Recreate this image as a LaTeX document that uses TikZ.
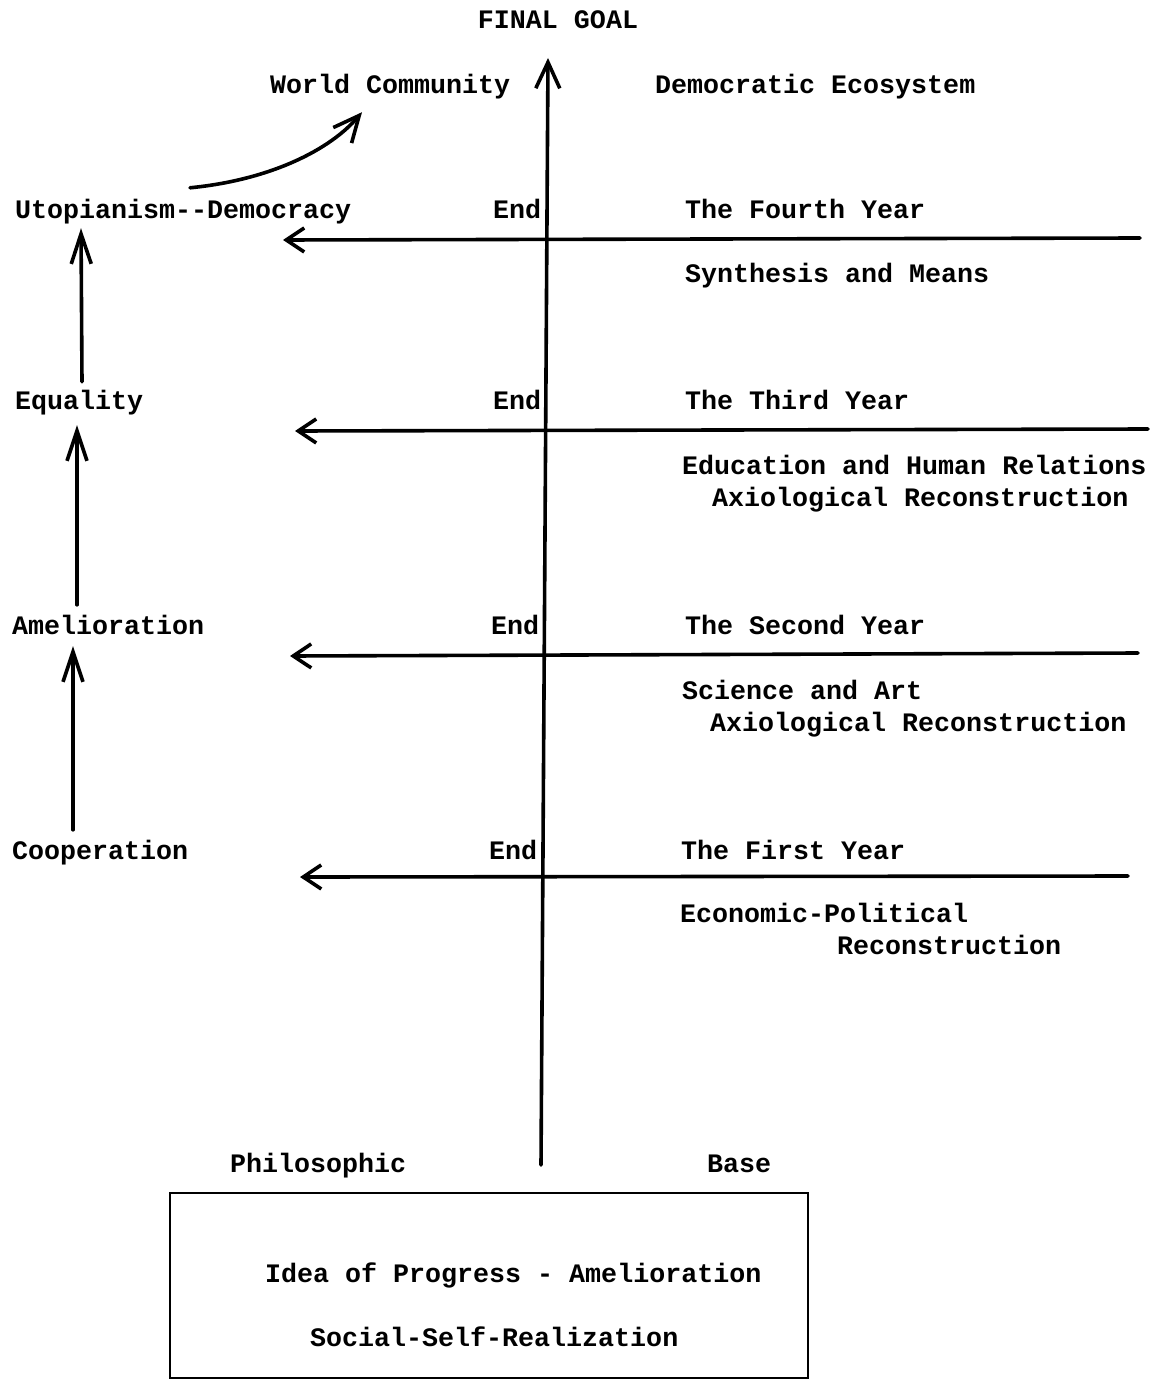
\documentclass[tikz,border=0pt]{standalone}
\usepackage{fontspec}
\setmonofont{Liberation Mono}
\usetikzlibrary{arrows.meta}
\begin{document}
\begin{tikzpicture}[x=1pt,y=-1pt,
  txt/.style={anchor=base west, inner sep=0pt, text height=17pt, text depth=6pt,
    font=\ttfamily\bfseries\fontsize{26.67}{32}\selectfont},
  ctxt/.style={txt, anchor=base},
  line/.style={line width=3.6pt, line cap=round},
  hbarb/.style={line, -{Straight Barb[length=18pt,width=24pt]}},
  vbarb/.style={line, -{Straight Barb[length=30pt,width=20pt]}},
  mbarb/.style={line, -{Straight Barb[length=26pt,width=24pt]}},
  basebox/.style={draw, line width=2.8pt, minimum width=638pt, minimum height=185pt, inner sep=0pt}]
\useasboundingbox (0,0) rectangle (1153,1380);

% headings at the top
\node[ctxt] (goal) at (558,29) {FINAL GOAL};
\node[txt] (world) at (270,94) {World Community};
\node[txt] (demo) at (655,94) {Democratic Ecosystem};

% left column of ideals
\node[txt] (utop) at (15,219) {Utopianism--Democracy};
\node[txt] (equal) at (15,409) {Equality};
\node[txt] (amel) at (12,634) {Amelioration};
\node[txt] (coop) at (12,859) {Cooperation};

% "End" markers beside the axis
\node[txt] (end4) at (493,219) {End};
\node[txt] (end3) at (493,409) {End};
\node[txt] (end2) at (491,634) {End};
\node[txt] (end1) at (489,859) {End};

% the four years
\node[txt] (y4) at (685,219) {The Fourth Year};
\node[txt] (y4b) at (685,282) {Synthesis and Means};
\node[txt] (y3) at (685,409) {The Third Year};
\node[txt] (y3b) at (682,474) {Education and Human Relations};
\node[txt] (y3c) at (712,506) {Axiological Reconstruction};
\node[txt] (y2) at (685,634) {The Second Year};
\node[txt] (y2b) at (682,699) {Science and Art};
\node[txt] (y2c) at (710,731) {Axiological Reconstruction};
\node[txt] (y1) at (681,859) {The First Year};
\node[txt] (y1b) at (680,922) {Economic-Political};
\node[txt] (y1c) at (837,954) {Reconstruction};

% philosophic base
\node[txt] (phil) at (230,1172) {Philosophic};
\node[txt] (basel) at (707,1172) {Base};
\node[basebox] (base) at (489,1285.5) {};
\node[txt] (idea) at (265,1282) {Idea of Progress - Amelioration};
\node[txt] (ssr) at (310,1346) {Social-Self-Realization};

% main axis
\coordinate (axbot) at (541,1165);
\coordinate (axtop) at (548,58);
\draw[mbarb] (axbot) -- (axtop);

% yearly arrows running leftwards
\coordinate (r4) at (1140,238); \coordinate (l4) at (283,240);
\coordinate (r3) at (1148,429); \coordinate (l3) at (295,431);
\coordinate (r2) at (1138,653); \coordinate (l2) at (290,656);
\coordinate (r1) at (1128,876); \coordinate (l1) at (300,877);
\draw[hbarb] (r4) -- (l4);
\draw[hbarb] (r3) -- (l3);
\draw[hbarb] (r2) -- (l2);
\draw[hbarb] (r1) -- (l1);

% ladder of ideals
\draw[vbarb] ([xshift=61pt,yshift=12pt]coop.north west) -- ([xshift=61pt,yshift=-6pt]amel.south west);
\draw[vbarb] ([xshift=65pt,yshift=12pt]amel.north west) -- ([xshift=62pt,yshift=-10pt]equal.south west);
\draw[vbarb] ([xshift=67pt,yshift=10pt]equal.north west) -- ([xshift=66pt,yshift=-3pt]utop.south west);
\draw[mbarb] ([xshift=175pt,yshift=14pt]utop.north west)
  .. controls (270,180) and (330,150) .. ([xshift=92pt,yshift=-12pt]world.south west);
\end{tikzpicture}
\end{document}
